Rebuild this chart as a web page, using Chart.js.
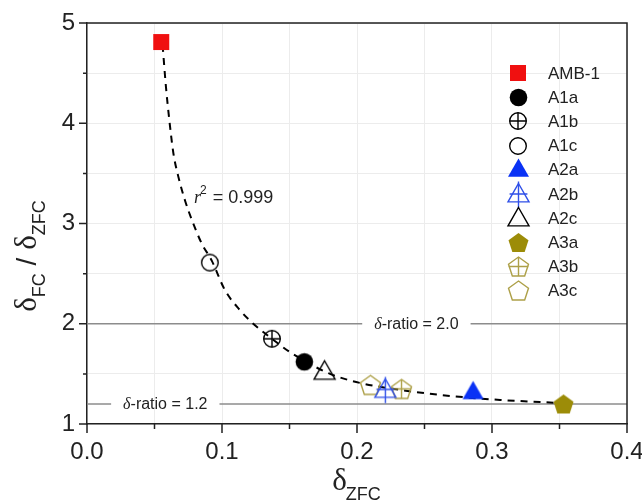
<!DOCTYPE html>
<html>
<head>
<meta charset="utf-8">
<title>delta ratio vs delta ZFC</title>
<style>
  html, body { margin: 0; padding: 0; background: #fff; }
</style>
</head>
<body>
<canvas id="chart" width="642" height="501"></canvas>

<script src="https://cdn.jsdelivr.net/npm/chart.js@4"></script>
<script>

// samples and their measured values
const samples = ['AMB-1', 'A1a', 'A1b', 'A1c', 'A2a', 'A2b', 'A2c', 'A3a', 'A3b', 'A3c'];
const deltaZFC = [0.055, 0.161, 0.137, 0.091, 0.286, 0.221, 0.176, 0.353, 0.233, 0.210];
const deltaRatio = [4.81, 1.62, 1.85, 2.61, 1.32, 1.34, 1.52, 1.20, 1.35, 1.39];

// dashed fit curve
const fitX = [0.056, 0.0585, 0.061, 0.064, 0.0676, 0.0726, 0.0787, 0.085, 0.0924, 0.102,
              0.113, 0.124, 0.137, 0.150, 0.165, 0.180, 0.202, 0.232, 0.269, 0.306, 0.350];
const fitY = [4.78, 4.36, 4.03, 3.70, 3.47, 3.23, 3.00, 2.80, 2.63, 2.34,
              2.14, 1.99, 1.85, 1.72, 1.60, 1.50, 1.41, 1.34, 1.28, 1.24, 1.21];
const fitText = '0.999';

// horizontal reference ratios
const ratioValues = [2.0, 1.2];
const ratioLabelX = [0.244, 0.058];   // where each label is centred

const xMin = 0, xMax = 0.4, xStep = 0.05;
const yMin = 1, yMax = 5, yStep = 0.5;


const FONT = '"Liberation Sans", Arial, sans-serif';
const SERIF = '"Liberation Serif", "Times New Roman", serif';

const red = '#f01010';
const blue = '#0a32f5';
const olive = '#9c8c08';
const oliveLine = '#ada048';

const markerStyles = [
  { shape: 'square',   color: red,       filled: true,  size: 16 },
  { shape: 'circle',   color: '#000',    filled: true,  size: 19 },
  { shape: 'circle',   color: '#000',    filled: false, size: 18, cross: true },
  { shape: 'circle',   color: '#000',    filled: false, size: 18 },
  { shape: 'triangle', color: blue,      filled: true,  size: 21 },
  { shape: 'triangle', color: '#3050e8', filled: false, size: 21, cross: true },
  { shape: 'triangle', color: '#000',    filled: false, size: 21 },
  { shape: 'pentagon', color: olive,     filled: true,  size: 21 },
  { shape: 'pentagon', color: oliveLine, filled: false, size: 21, cross: true },
  { shape: 'pentagon', color: oliveLine, filled: false, size: 21 },
];

function makeMarker(st) {
  const s = st.size + 10;
  const c = document.createElement('canvas');
  c.width = s; c.height = s;
  const g = c.getContext('2d');
  g.translate(s / 2, s / 2);
  g.strokeStyle = st.color;
  g.fillStyle = st.color;
  g.lineWidth = 1.4;
  const r = st.size / 2;

  g.beginPath();
  if (st.shape === 'square') {
    g.rect(-r, -r, st.size, st.size);
  } else if (st.shape === 'circle') {
    g.arc(0, 0, r - 0.7, 0, Math.PI * 2);
  } else if (st.shape === 'triangle') {
    g.moveTo(0, -r * 1.05);
    g.lineTo(r, r * 0.7);
    g.lineTo(-r, r * 0.7);
    g.closePath();
  } else if (st.shape === 'pentagon') {
    for (let k = 0; k < 5; k++) {
      const a = -Math.PI / 2 + k * 2 * Math.PI / 5;
      const px = Math.cos(a) * r, py = Math.sin(a) * r + 1;
      if (k === 0) g.moveTo(px, py); else g.lineTo(px, py);
    }
    g.closePath();
  }
  if (st.filled) g.fill(); else g.stroke();

  if (st.cross) {
    g.beginPath();
    if (st.shape === 'circle') {
      g.moveTo(-r + 0.7, 0); g.lineTo(r - 0.7, 0);
      g.moveTo(0, -r + 0.7); g.lineTo(0, r - 0.7);
    } else if (st.shape === 'triangle') {
      g.moveTo(0, -r * 1.25); g.lineTo(0, r * 1.25);
      g.moveTo(-r * 0.85, -r * 0.05); g.lineTo(r * 0.85, -r * 0.05);
    } else {
      g.moveTo(0, -r + 1); g.lineTo(0, r * 0.81 + 1);
      g.moveTo(-r * 0.93, 0); g.lineTo(r * 0.93, 0);
    }
    g.stroke();
  }
  return c;
}

const markers = markerStyles.map(makeMarker);


// one dataset per sample, so each can carry its own marker
const sampleSets = samples.map((name, i) => ({
  label: name,
  data: [{ x: deltaZFC[i], y: deltaRatio[i] }],
  pointStyle: markers[i],
  showLine: false,
}));

const fitSet = {
  label: 'fit',
  data: fitX.map((x, i) => ({ x: x, y: fitY[i] })),
  showLine: true,
  borderColor: '#000',
  borderWidth: 2,
  borderDash: [7, 6],
  cubicInterpolationMode: 'monotone',
  pointRadius: 0,
};

const ratioSets = ratioValues.map(v => ({
  label: 'ratio ' + v,
  data: [{ x: xMin, y: v }, { x: xMax, y: v }],
  showLine: true,
  borderColor: '#8c8c8c',
  borderWidth: 1.5,
  pointRadius: 0,
}));


// ticks: long on labelled values, short on the halves
const tickMarks = {
  id: 'tickMarks',
  afterDraw(chart) {
    const { ctx, chartArea: a, scales } = chart;
    ctx.save();
    ctx.strokeStyle = '#222';
    ctx.lineWidth = 1.5;
    ctx.beginPath();
    scales.x.ticks.forEach(t => {
      const px = scales.x.getPixelForValue(t.value);
      const major = Math.abs(t.value * 10 - Math.round(t.value * 10)) < 1e-6;
      ctx.moveTo(px, a.bottom);
      ctx.lineTo(px, a.bottom + (major ? 9 : 5));
    });
    scales.y.ticks.forEach(t => {
      const py = scales.y.getPixelForValue(t.value);
      const major = Math.abs(t.value - Math.round(t.value)) < 1e-6;
      ctx.moveTo(a.left, py);
      ctx.lineTo(a.left - (major ? 8 : 4), py);
    });
    // closing box
    ctx.moveTo(a.left, a.top); ctx.lineTo(a.right, a.top); ctx.lineTo(a.right, a.bottom);
    ctx.stroke();
    ctx.restore();
  }
};

// labels sitting on the reference lines, fit text, legend, axis titles
const annotations = {
  id: 'annotations',
  afterDatasetsDraw(chart) {
    const { ctx, chartArea: a, scales } = chart;
    ctx.save();

    // delta-ratio labels with a gap cut into the line
    ctx.textBaseline = 'middle';
    ratioValues.forEach((v, i) => {
      const py = scales.y.getPixelForValue(v);
      const cx = scales.x.getPixelForValue(ratioLabelX[i]);
      ctx.font = 'italic 16px ' + SERIF;
      const wd = ctx.measureText('δ').width;
      ctx.font = '16px ' + FONT;
      const rest = '-ratio = ' + v.toFixed(1);
      const w = wd + ctx.measureText(rest).width;
      ctx.fillStyle = '#fff';
      ctx.fillRect(cx - w / 2 - 12, py - 3, w + 24, 6);
      ctx.fillStyle = '#222';
      ctx.textAlign = 'left';
      ctx.font = 'italic 16px ' + SERIF;
      ctx.fillText('δ', cx - w / 2, py + 1);
      ctx.font = '16px ' + FONT;
      ctx.fillText(rest, cx - w / 2 + wd, py + 1);
    });

    // r^2 text
    ctx.textBaseline = 'alphabetic';
    ctx.fillStyle = '#222';
    let tx = 194, ty = 203;
    ctx.font = 'italic 18px ' + SERIF;
    ctx.fillText('r', tx, ty);
    tx += ctx.measureText('r').width;
    ctx.font = '12px ' + FONT;
    ctx.fillText('2', tx - 1, ty - 9);
    tx += ctx.measureText('2').width;
    ctx.font = '18px ' + FONT;
    ctx.fillText(' = ' + fitText, tx, ty);

    // legend
    const lx = a.right - 109, ty0 = 73, dy = 24.2;
    ctx.font = '17px ' + FONT;
    ctx.textBaseline = 'middle';
    samples.forEach((name, i) => {
      const y = ty0 + i * dy;
      const m = markers[i];
      ctx.drawImage(m, Math.round(lx - m.width / 2), Math.round(y - m.height / 2));
      ctx.fillStyle = '#222';
      ctx.fillText(name, lx + 30, y + 1);
    });

    ctx.restore();
  },
  afterDraw(chart) {
    const { ctx, chartArea: a } = chart;
    ctx.save();
    ctx.fillStyle = '#222';
    ctx.textBaseline = 'alphabetic';

    // x title: delta with subscript ZFC
    ctx.font = '31px ' + SERIF;
    const wD = ctx.measureText('δ').width;
    ctx.font = '18px ' + FONT;
    const wS = ctx.measureText('ZFC').width;
    let x0 = (a.left + a.right) / 2 - (wD + wS) / 2;
    ctx.font = '31px ' + SERIF;
    ctx.fillText('δ', x0, 490);
    ctx.font = '18px ' + FONT;
    ctx.fillText('ZFC', x0 + wD - 1, 500);

    // y title, rotated
    ctx.translate(36, 256);
    ctx.rotate(-Math.PI / 2);
    const parts = [
      ['δ', '31px ' + SERIF, 0], ['FC', '18px ' + FONT, 9],
      [' / ', '28px ' + FONT, 0],
      ['δ', '31px ' + SERIF, 0], ['ZFC', '18px ' + FONT, 9],
    ];
    let total = 0;
    parts.forEach(p => { ctx.font = p[1]; total += ctx.measureText(p[0]).width; });
    let px = -total / 2;
    parts.forEach(p => {
      ctx.font = p[1];
      ctx.fillText(p[0], px, p[2]);
      px += ctx.measureText(p[0]).width;
    });
    ctx.restore();
  }
};


new Chart(document.getElementById('chart'), {
  type: 'scatter',
  data: {
    datasets: [...sampleSets, fitSet, ...ratioSets],
  },
  options: {
    responsive: false,
    animation: false,
    layout: { padding: { top: 23, right: 15, left: 0, bottom: 0 } },
    plugins: {
      legend: { display: false },
      tooltip: { enabled: false },
    },
    scales: {
      x: {
        type: 'linear',
        min: xMin, max: xMax,
        afterFit: s => { s.height = 77; s.paddingLeft = 0; s.paddingRight = 0; },
        grid: { color: '#ececec', drawTicks: false },
        border: { color: '#222', width: 1.5 },
        ticks: {
          stepSize: xStep,
          padding: 14,
          color: '#222',
          font: { family: FONT, size: 24 },
          maxRotation: 0,
          autoSkip: false,
          callback: v => Math.abs(v * 10 - Math.round(v * 10)) < 1e-6 ? v.toFixed(1) : '',
        },
      },
      y: {
        type: 'linear',
        min: yMin, max: yMax,
        afterFit: s => { s.width = 87; s.paddingTop = 0; s.paddingBottom = 0; },
        grid: { color: '#ececec', drawTicks: false },
        border: { color: '#222', width: 1.5 },
        ticks: {
          stepSize: yStep,
          padding: 12,
          color: '#222',
          font: { family: FONT, size: 24 },
          autoSkip: false,
          callback: v => Math.abs(v - Math.round(v)) < 1e-6 ? String(Math.round(v)) : '',
        },
      },
    },
  },
  plugins: [tickMarks, annotations],
});

</script>
</body>
</html>
